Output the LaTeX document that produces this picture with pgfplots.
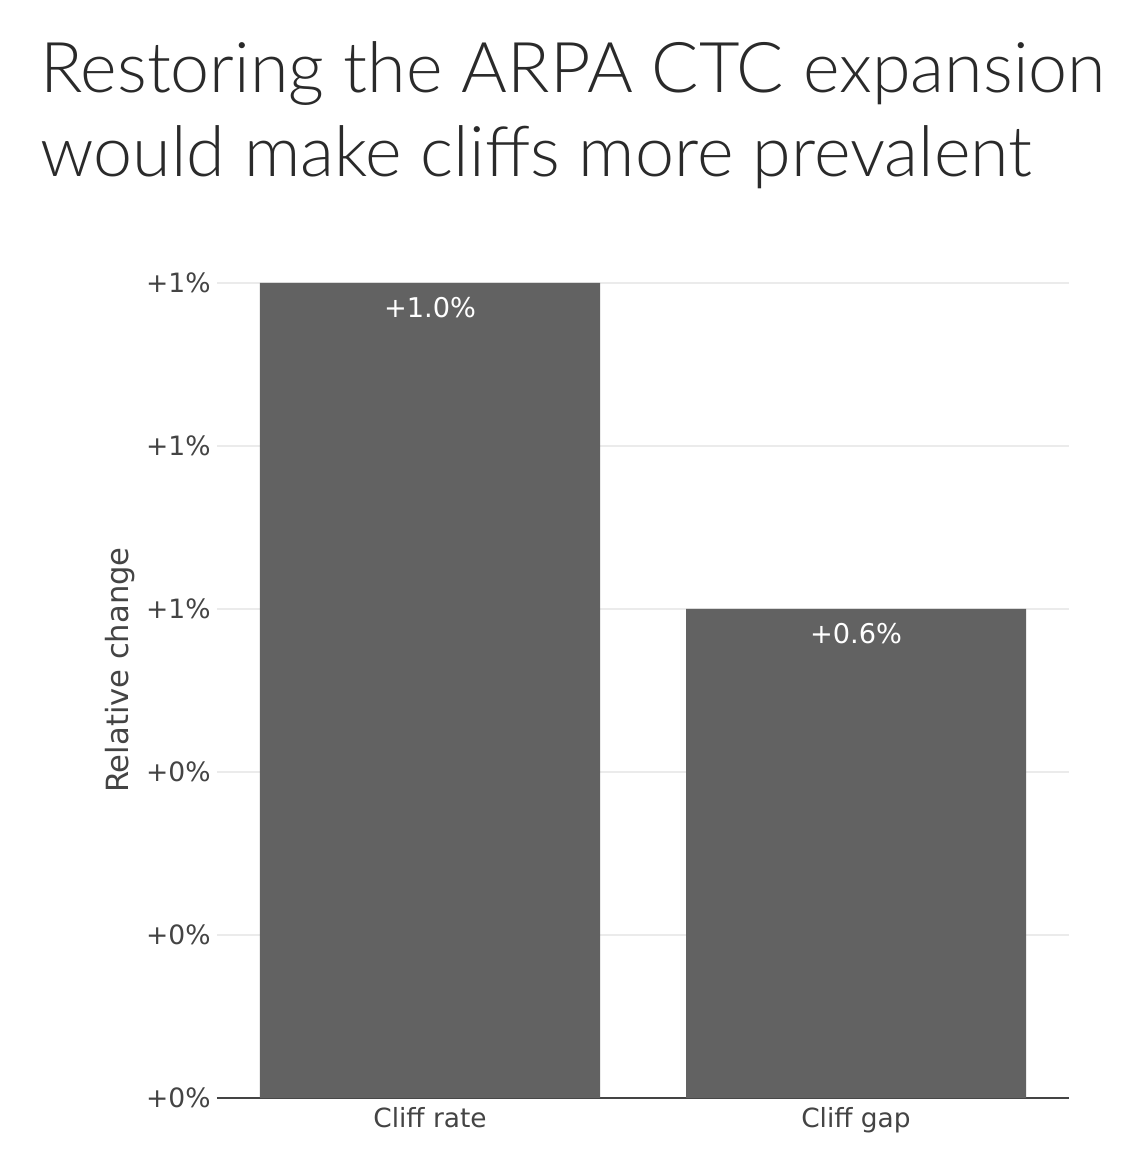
\documentclass[border=0pt]{standalone}
\usepackage{fontspec}
\setmainfont{DejaVu Sans}
\newfontfamily\titlefont{Lato Light}
\usepackage{pgfplots}
\pgfplotsset{compat=1.18}
\definecolor{barc}{HTML}{626262}
\definecolor{txt}{HTML}{444444}
\definecolor{gridc}{HTML}{EBEBEB}
\definecolor{ttl}{HTML}{2A2A2A}
\begin{document}
\begin{tikzpicture}
\useasboundingbox (-108.5pt,-26pt) rectangle (462.5pt,549pt);
\begin{axis}[
  at={(0,0)}, anchor=south west,
  scale only axis, width=426pt, height=427.875pt,
  xmin=-0.5, xmax=1.5, ymin=0, ymax=1.05,
  axis x line*=bottom, axis y line*=left,
  x axis line style={-, draw=txt, line width=1pt},
  y axis line style={draw=none},
  major tick length=0pt,
  ymajorgrids, grid style={gridc, line width=0.7pt},
  ytick={0,0.2,0.4,0.6,0.8,1.0},
  yticklabels={+0\%,+0\%,+0\%,+1\%,+1\%,+1\%},
  yticklabel style={txt, font=\fontsize{13.3}{15}\selectfont, anchor=east, inner sep=0pt, xshift=-3pt},
  xtick={0,1},
  xticklabels={Cliff rate, Cliff gap},
  xticklabel style={txt, font=\fontsize{13.2}{15}\selectfont, anchor=north, inner sep=0pt, yshift=-4.5pt},
  ylabel={Relative change},
  every axis y label/.style={at={(axis description cs:0,0.5)}, rotate=90, anchor=center, yshift=48.5pt, txt, font=\fontsize{15.3}{18}\selectfont},
  ybar, bar width=170pt,
  point meta=explicit symbolic,
  nodes near coords,
  every node near coord/.append style={anchor=north, white, inner sep=0pt, yshift=-7pt, font=\fontsize{13.6}{15}\selectfont},
]
\addplot[fill=barc, draw=none] coordinates {(0,1.0) [+1.0\%] (1,0.6) [+0.6\%]};
\end{axis}
\node[anchor=base west, font=\titlefont\fontsize{35}{42}\selectfont, text=ttl, inner sep=0pt] at (-88.5pt,502.5pt) {Restoring the ARPA CTC expansion};
\node[anchor=base west, font=\titlefont\fontsize{35}{42}\selectfont, text=ttl, inner sep=0pt] at (-88.5pt,460.5pt) {would make cliffs more prevalent};
\end{tikzpicture}
\end{document}
